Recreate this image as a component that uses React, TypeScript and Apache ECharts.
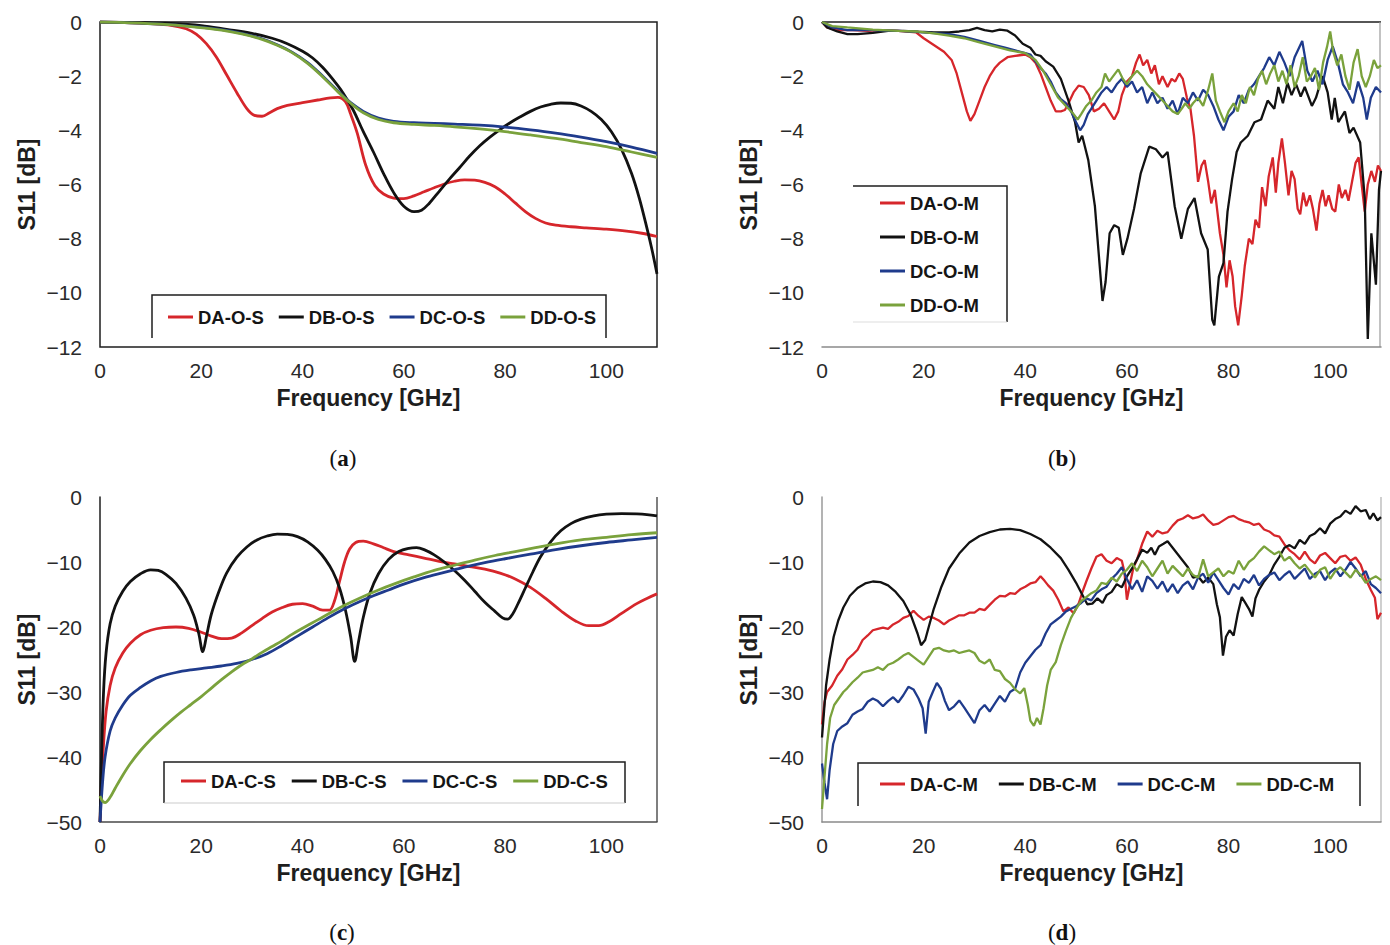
import React, { useEffect, useRef } from "react";
import * as echarts from "echarts";

type Pt = [number, number];

// Axis ranges
const FREQ_MIN = 0;
const FREQ_MAX = 110;
const FREQ_STEP = 20;
const OPEN_MIN = -12;
const OPEN_STEP = 2;
const CLOSED_MIN = -50;
const CLOSED_STEP = 10;

// Series names per panel
const NAMES_A = ["DA-O-S", "DB-O-S", "DC-O-S", "DD-O-S"];
const NAMES_B = ["DA-O-M", "DB-O-M", "DC-O-M", "DD-O-M"];
const NAMES_C = ["DA-C-S", "DB-C-S", "DC-C-S", "DD-C-S"];
const NAMES_D = ["DA-C-M", "DB-C-M", "DC-C-M", "DD-C-M"];
const CAPTIONS = ["a", "b", "c", "d"];

// (a) open, simulated  [GHz, dB]
const daOS: Pt[] = [[0,0],[5,-0.02],[10,-0.06],[14,-0.12],[17,-0.25],[19,-0.45],[21,-0.8],[23,-1.3],[25,-1.95],[27,-2.6],[29,-3.2],[30.5,-3.45],[32,-3.48],[33.5,-3.35],[35,-3.2],[37,-3.08],[40,-2.98],[43,-2.88],[45.5,-2.8],[47,-2.78],[48.5,-2.95],[49.5,-3.4],[50.8,-4.1],[52.5,-5.3],[54.3,-6.05],[56,-6.35],[58,-6.5],[60,-6.52],[62,-6.42],[64,-6.27],[66,-6.12],[68,-5.98],[70,-5.88],[72,-5.83],[74,-5.84],[76,-5.92],[78,-6.08],[80,-6.35],[82,-6.68],[84,-7.0],[86,-7.25],[88,-7.42],[90,-7.5],[93,-7.56],[96,-7.6],[100,-7.65],[104,-7.72],[107,-7.8],[110,-7.92]];
const dbOS: Pt[] = [[0,0],[8,-0.02],[14,-0.05],[20,-0.13],[25,-0.27],[30,-0.42],[34,-0.6],[37,-0.8],[40,-1.08],[42,-1.33],[44,-1.68],[46,-2.12],[48,-2.62],[50,-3.25],[52,-4.05],[54,-4.8],[56,-5.6],[58,-6.3],[60,-6.8],[62,-7.0],[63.5,-6.95],[65,-6.7],[67,-6.25],[69,-5.8],[71,-5.38],[73,-4.95],[75,-4.57],[77,-4.25],[79,-3.97],[81,-3.72],[83,-3.5],[85,-3.3],[87,-3.14],[89,-3.04],[91,-2.99],[93,-3.0],[95,-3.1],[97,-3.3],[99,-3.6],[101,-4.05],[103,-4.7],[105,-5.6],[106.5,-6.5],[108,-7.6],[109,-8.4],[110,-9.3]];
const dcOS: Pt[] = [[0,0],[6,-0.03],[12,-0.08],[18,-0.16],[24,-0.28],[28,-0.42],[32,-0.62],[35,-0.84],[38,-1.12],[41,-1.5],[44,-2.0],[47,-2.55],[49.5,-2.98],[52,-3.3],[55,-3.55],[58,-3.67],[62,-3.72],[66,-3.74],[70,-3.77],[75,-3.81],[80,-3.88],[85,-3.98],[90,-4.1],[95,-4.25],[100,-4.42],[105,-4.62],[110,-4.85]];
const ddOS: Pt[] = [[0,0],[6,-0.03],[12,-0.08],[18,-0.17],[24,-0.3],[28,-0.44],[32,-0.64],[35,-0.86],[38,-1.14],[41,-1.53],[44,-2.03],[47,-2.58],[49.5,-3.0],[52,-3.35],[55,-3.6],[58,-3.72],[62,-3.78],[66,-3.82],[70,-3.87],[75,-3.95],[80,-4.05],[85,-4.17],[90,-4.3],[95,-4.45],[100,-4.6],[105,-4.8],[110,-5.0]];

// (b) open, measured
const daOM: Pt[] = [[0,0],[1,-0.2],[3,-0.3],[6,-0.3],[9,-0.33],[12,-0.3],[15,-0.33],[18.5,-0.38],[20,-0.6],[22,-0.85],[24,-1.1],[25.5,-1.4],[26.5,-1.9],[27.5,-2.6],[28.5,-3.3],[29.2,-3.65],[30,-3.4],[31,-2.9],[32,-2.4],[33,-2.0],[34,-1.7],[35,-1.5],[36.5,-1.3],[38,-1.25],[40,-1.2],[41,-1.3],[42,-1.5],[43,-1.9],[44,-2.4],[45,-2.9],[46,-3.3],[47,-3.3],[47.8,-3.25],[48.5,-3.0],[49.5,-2.6],[50.5,-2.35],[51.5,-2.4],[52.5,-2.7],[53.5,-3.3],[54.5,-3.2],[55.5,-3.0],[56.5,-3.3],[57.5,-3.6],[58.3,-3.3],[59,-2.7],[60,-2.2],[61,-2.0],[61.8,-1.5],[62.5,-1.2],[63.2,-1.6],[64,-1.4],[64.8,-1.9],[65.5,-1.6],[66.3,-2.3],[67,-2.0],[68,-2.4],[68.8,-2.1],[69.5,-2.2],[70.3,-1.9],[71,-2.1],[71.8,-2.8],[72.5,-3.2],[73.2,-4.2],[74,-5.9],[74.7,-5.3],[75.3,-5.1],[76,-5.9],[76.6,-6.7],[77.3,-6.2],[78.3,-7.8],[79,-8.6],[79.6,-9.8],[80.2,-8.8],[80.8,-9.4],[81.3,-10.5],[81.9,-11.2],[82.6,-10.1],[83.2,-9.0],[84,-8.0],[84.7,-8.2],[85.3,-7.3],[86,-7.6],[86.6,-6.1],[87.3,-6.8],[87.9,-5.7],[88.7,-5.0],[89.3,-6.3],[89.8,-5.2],[90.5,-4.3],[91.1,-5.2],[91.8,-6.4],[92.4,-5.5],[93,-5.8],[93.6,-6.9],[94.1,-7.1],[94.7,-6.3],[95.3,-6.8],[96,-6.4],[96.6,-6.9],[97.3,-7.7],[97.9,-6.7],[98.5,-6.2],[99.1,-6.8],[99.7,-6.4],[100.4,-6.9],[101,-7.0],[101.7,-6.0],[102.3,-6.5],[103,-6.2],[103.6,-6.6],[104.3,-5.9],[105,-5.2],[105.6,-5.0],[106.2,-6.0],[106.8,-7.0],[107.4,-6.0],[108.1,-5.5],[108.8,-5.9],[109.4,-5.3],[110,-5.5]];
const dbOM: Pt[] = [[0,0],[1,-0.2],[3,-0.35],[5,-0.45],[7,-0.45],[10,-0.4],[13,-0.33],[16,-0.33],[19,-0.36],[22,-0.38],[25,-0.38],[27,-0.35],[29,-0.3],[30.5,-0.22],[32,-0.3],[33.5,-0.35],[35,-0.28],[36.5,-0.32],[38,-0.5],[39.5,-0.8],[41,-0.95],[42,-1.2],[43,-1.25],[44,-1.45],[45.5,-1.65],[47,-2.1],[48.5,-2.9],[49.8,-3.7],[50.5,-4.45],[51.2,-4.2],[52.4,-5.1],[53.7,-6.8],[54.6,-8.9],[55.2,-10.3],[55.8,-9.6],[56.6,-7.8],[57.5,-7.5],[58.4,-7.6],[59.2,-8.6],[60.1,-8.0],[61.4,-6.9],[62.7,-5.6],[64.4,-4.6],[65.7,-4.7],[67,-5.0],[68,-4.8],[69.4,-6.8],[70.7,-8.0],[72,-6.9],[73.3,-6.5],[74.6,-7.8],[75.9,-8.4],[76.8,-11.0],[77.2,-11.2],[78.1,-9.4],[79,-8.9],[79.8,-7.0],[80.7,-5.8],[81.6,-4.8],[82.4,-4.45],[83.8,-4.2],[85.1,-3.7],[86.4,-3.6],[87.7,-2.9],[89,-3.2],[89.8,-2.4],[90.7,-3.0],[91.6,-2.25],[92.4,-2.7],[93.3,-2.3],[94.2,-2.75],[95,-2.4],[96.4,-3.1],[97.2,-2.8],[98.5,-2.0],[99.5,-2.6],[100.3,-3.6],[100.9,-2.8],[101.6,-3.7],[102.9,-3.3],[103.8,-4.1],[104.6,-3.9],[105.9,-4.45],[106.8,-6.5],[107.4,-11.7],[108.1,-7.8],[109,-9.7],[109.6,-6.2],[110,-5.5]];
const dcOM: Pt[] = [[0,0],[2,-0.2],[5,-0.3],[10,-0.3],[15,-0.33],[20,-0.38],[25,-0.45],[28,-0.55],[31,-0.7],[34,-0.85],[36,-0.95],[38,-1.05],[40,-1.15],[41,-1.2],[42,-1.45],[43,-1.7],[44,-1.9],[45,-2.2],[46,-2.6],[47,-2.85],[48,-3.0],[49,-3.3],[50,-3.7],[50.8,-4.0],[51.5,-3.8],[52.3,-3.4],[53,-3.2],[54,-2.9],[55,-2.6],[56,-2.4],[57,-2.6],[58,-2.3],[59,-2.1],[60,-2.4],[61,-2.2],[62,-2.6],[63,-2.4],[64,-3.0],[65,-2.6],[66,-3.0],[67,-2.8],[68,-3.2],[69,-2.9],[70,-3.4],[71,-2.8],[72,-3.0],[73,-2.6],[74,-2.9],[75,-2.5],[76,-2.7],[77,-3.1],[78,-3.6],[79,-4.0],[80,-3.5],[81,-3.3],[82,-2.7],[83,-3.0],[84,-2.5],[85,-2.3],[86,-2.0],[87,-1.7],[88,-1.3],[89,-1.6],[90,-1.1],[91,-1.5],[92,-2.0],[93,-1.3],[94.5,-0.7],[95.5,-1.8],[96.5,-2.2],[97.5,-1.8],[98.5,-2.3],[99.5,-1.4],[100.5,-0.9],[101.5,-1.5],[102.5,-2.3],[103.5,-2.6],[104.5,-3.0],[105.5,-2.2],[106.5,-2.8],[107.2,-3.6],[108,-2.8],[109,-2.4],[110,-2.6]];
const ddOM: Pt[] = [[0,0],[2,-0.15],[5,-0.2],[10,-0.28],[15,-0.33],[18.5,-0.35],[22,-0.42],[25,-0.5],[28,-0.6],[31,-0.75],[34,-0.9],[37,-1.05],[40,-1.15],[42,-1.4],[43.5,-1.8],[45,-2.3],[46.5,-2.8],[48,-3.1],[49.5,-3.4],[50.3,-3.6],[51,-3.4],[52,-3.1],[53,-2.9],[54,-2.6],[55,-2.4],[55.7,-1.9],[56.5,-2.2],[57.3,-2.0],[58.3,-1.75],[59.2,-2.1],[60,-2.3],[61,-2.0],[62,-1.8],[63,-2.0],[64,-2.3],[65,-2.5],[66,-2.7],[67,-2.9],[68,-3.1],[69,-3.3],[70,-3.4],[70.8,-3.2],[71.5,-3.0],[72.3,-3.2],[73,-3.0],[74,-2.8],[75,-3.1],[76,-2.5],[76.8,-1.9],[77.5,-2.9],[78.3,-3.3],[79.2,-3.7],[80,-3.3],[81,-3.0],[81.8,-3.3],[82.6,-2.7],[83.4,-3.0],[84.2,-2.4],[85,-2.7],[85.8,-2.1],[86.6,-1.8],[87.4,-2.3],[88.2,-1.9],[89,-1.6],[89.8,-2.2],[90.6,-1.8],[91.4,-2.3],[92.2,-1.6],[93,-2.4],[93.8,-2.0],[94.6,-1.3],[95.4,-2.2],[96.2,-2.0],[97,-1.7],[97.8,-2.5],[98.6,-1.5],[99.4,-0.9],[100,-0.35],[100.6,-1.1],[101.4,-1.6],[102.2,-1.2],[103,-2.0],[103.8,-2.5],[104.6,-1.5],[105.4,-1.0],[106.2,-2.0],[107,-2.4],[107.8,-2.0],[108.6,-1.4],[109.3,-1.7],[110,-1.6]];

// (c) closed, simulated
const daCS: Pt[] = [[0,-50],[0.3,-44],[0.7,-38],[1.2,-33],[2,-29],[3,-26.3],[4.5,-24],[6,-22.5],[8,-21.2],[10,-20.5],[12.5,-20.1],[15,-20],[17.5,-20.2],[20,-20.8],[22,-21.4],[24,-21.8],[26,-21.7],[28,-20.9],[30,-19.8],[32,-18.7],[34,-17.7],[36,-17],[38,-16.5],[40,-16.4],[42,-16.8],[44,-17.4],[45.3,-17.4],[46.3,-16],[47.3,-13],[48.3,-10],[49.3,-8],[50.5,-7],[52,-6.8],[54,-7.2],[56,-7.8],[58,-8.4],[61,-8.9],[64,-9.4],[67,-9.9],[70,-10.3],[73,-10.7],[76,-11.1],[79,-11.7],[82,-12.6],[85,-13.9],[88,-15.6],[91,-17.5],[94,-19.1],[96.5,-19.8],[98.5,-19.8],[100.5,-19.2],[103,-17.9],[106,-16.4],[108,-15.6],[110,-14.9]];
const dbCS: Pt[] = [[0,-50],[0.3,-40],[0.7,-30],[1.2,-24],[2,-19.5],[3,-16.8],[4.5,-14.5],[6,-13],[8,-11.8],[10,-11.2],[11.5,-11.3],[13,-11.9],[15,-13.3],[17,-15.6],[18.5,-18.2],[19.5,-21],[20.3,-23.8],[21,-21.5],[22,-18],[23.5,-14.5],[25,-11.7],[27,-9.3],[29,-7.7],[31,-6.6],[33,-6],[35,-5.7],[37,-5.75],[39,-6.1],[41,-6.9],[43,-8.2],[44.5,-9.6],[46,-11.5],[47.3,-14],[48.5,-17.5],[49.5,-21.5],[50.3,-25.3],[51,-22.5],[52,-18.5],[53.3,-14.8],[55,-11.8],[57,-9.6],[59,-8.4],[61,-7.9],[62.5,-7.8],[64,-8.1],[66,-8.9],[68,-10],[70,-11.3],[72,-12.8],[74,-14.5],[76,-16.2],[78,-17.6],[79.5,-18.6],[80.5,-18.8],[81.5,-18],[82.5,-16.5],[84,-14],[85.5,-11.5],[87,-9.2],[89,-6.9],[91,-5.2],[93,-4.1],[95,-3.4],[97.5,-2.9],[100,-2.65],[103,-2.55],[106,-2.6],[108,-2.7],[110,-2.9]];
const dcCS: Pt[] = [[0,-50],[0.5,-44],[1,-40],[2,-36],[3,-34],[4.5,-32],[6,-30.5],[8,-29.3],[10,-28.3],[12,-27.6],[15,-27],[18,-26.6],[21,-26.3],[24,-26],[27,-25.6],[30,-25],[33,-24.1],[36,-22.8],[39,-21.4],[42,-20],[45,-18.6],[48,-17.3],[51,-16.2],[54,-15.2],[57,-14.3],[60,-13.4],[64,-12.4],[68,-11.6],[72,-10.8],[76,-10.1],[80,-9.5],[85,-8.8],[90,-8.1],[95,-7.5],[100,-7],[105,-6.6],[110,-6.2]];
const ddCS: Pt[] = [[0,-46],[0.5,-46.8],[1,-47],[2,-46.2],[3,-44.8],[4.5,-42.8],[6,-41],[8,-39],[10,-37.3],[12,-35.8],[14,-34.4],[16,-33.1],[18,-31.9],[20,-30.7],[22,-29.4],[24,-28.1],[26,-26.9],[28,-25.8],[30,-24.9],[32,-23.9],[34,-23.0],[36,-22.1],[38,-21.1],[40,-20.2],[43,-18.9],[46,-17.6],[49,-16.4],[52,-15.3],[55,-14.3],[58,-13.4],[62,-12.3],[66,-11.3],[70,-10.5],[74,-9.7],[78,-9],[82,-8.4],[86,-7.8],[90,-7.2],[95,-6.6],[100,-6.2],[105,-5.8],[110,-5.5]];

// (d) closed, measured
const daCM: Pt[] = [[0,-35],[0.5,-31.5],[1,-30],[2,-29],[3,-27.5],[4,-26.5],[5,-25],[6,-24.3],[7,-23.5],[8,-22],[9,-21.3],[10,-20.5],[11,-20.3],[12,-20.1],[13,-20.3],[14,-19.6],[15,-19.2],[16,-18.6],[17,-18.3],[18,-17.5],[19,-18.3],[20,-18.9],[21,-18.4],[22,-18.6],[23,-19],[24,-19.6],[25,-19],[26,-18.6],[27,-18.2],[28,-18.2],[29,-17.8],[30,-17.8],[31,-17.2],[32,-17.4],[33,-16.6],[34,-15.8],[35,-15.2],[36,-15.3],[37,-14.8],[38,-14.9],[39,-14.2],[40,-13.8],[41,-13.3],[42,-13.1],[43,-12.2],[43.8,-12.9],[44.5,-13.6],[45.5,-14.4],[46.5,-15.8],[47.5,-17.6],[48.5,-17],[49.5,-17.9],[50.5,-16.4],[51.3,-14.5],[52,-13],[53,-11],[54,-9.2],[55,-8.8],[56,-9.8],[57,-10.2],[58,-9.4],[59,-9.8],[59.5,-11.5],[60,-15.8],[60.7,-13],[61.3,-10.8],[62,-9.6],[63,-7.2],[64,-5.3],[65,-6.1],[66,-5.2],[67,-5.6],[68,-5.4],[69,-4.4],[70,-3.6],[71,-3.3],[72,-2.8],[73,-3.3],[74,-3.1],[75,-2.7],[76,-3.6],[77,-4.3],[78,-4.1],[79,-3.6],[80,-3.1],[81,-2.9],[82,-3.4],[83,-3.7],[84,-3.9],[85,-4.3],[86,-4.1],[87,-5.0],[88,-5.3],[89,-5.9],[90,-6.1],[91,-7.3],[92,-8.2],[93,-8.8],[94,-9.6],[95,-8.4],[96,-9.6],[97,-10.2],[98,-9.0],[99,-8.6],[100,-9.4],[101,-10.2],[102,-9.2],[103,-9.0],[104,-9.8],[105,-9.3],[106,-10.4],[107,-12.6],[108,-14.3],[108.8,-15.5],[109.3,-18.8],[110,-17.8]];
const dbCM: Pt[] = [[0,-37],[0.4,-33],[0.8,-29],[1.5,-25],[2.3,-21.5],[3.2,-19],[4.2,-17],[5.5,-15.2],[7,-14],[8.5,-13.3],[10,-13],[11.5,-13.1],[13,-13.6],[14.5,-14.6],[16,-16],[17.5,-18.2],[18.8,-21],[19.5,-22.8],[20.3,-22],[21,-20],[22,-17.2],[23.5,-13.8],[25,-11],[27,-8.7],[29,-7],[31,-6],[33,-5.4],[35,-5],[37,-4.9],[39,-5.1],[41,-5.7],[43,-6.5],[45,-7.8],[47,-9.4],[48.5,-11.2],[50,-13.2],[51.2,-15],[52.2,-16.5],[53.2,-16.4],[54.2,-15.6],[55.2,-16.3],[56,-15.1],[57,-14.6],[58,-13.4],[59,-13.9],[60,-12.2],[61,-11],[62,-9.6],[63,-8.1],[64,-8.6],[64.8,-7.8],[65.5,-8.9],[66.3,-7.6],[67.2,-7.2],[68,-6.8],[69,-7.8],[70,-8.8],[71,-9.8],[72,-10.8],[73,-12.4],[74,-12.2],[75,-13.2],[76,-12.4],[77,-13.4],[77.7,-16.5],[78.3,-18.5],[78.9,-24.4],[79.5,-21.5],[80.2,-20.5],[81,-21.3],[81.8,-18],[82.6,-15.4],[83.3,-16.3],[84,-17.2],[84.7,-18.4],[85.3,-15.6],[86,-14.3],[87,-13],[88,-12],[89,-10.4],[90,-9.2],[91,-7.8],[92,-7.4],[93,-7.9],[94,-6.6],[95,-7.2],[96,-6.0],[97,-5.6],[98,-4.8],[99,-5.6],[100,-4.1],[101,-3.4],[102,-3.0],[103,-2.1],[104,-2.6],[105,-1.4],[106,-2.2],[107,-2.0],[107.8,-3.4],[108.5,-2.5],[109.3,-3.6],[110,-3.1]];
const dcCM: Pt[] = [[0,-41],[0.5,-44],[1,-46.5],[1.5,-42],[2.2,-38],[3,-36],[4,-35.3],[5,-34.8],[6,-33.5],[7,-33],[8,-32.6],[9,-31.5],[10,-31],[11,-31.4],[12,-32.2],[13,-31.4],[14,-30.8],[15,-31.6],[16,-30.5],[17,-29.2],[18,-29.6],[19,-31],[19.8,-32.5],[20.4,-36.4],[21,-31.5],[21.8,-30],[22.6,-28.6],[23.4,-29.5],[24.2,-31.4],[25,-32.8],[26,-32.2],[27,-31.3],[28,-32.4],[29,-33.6],[30,-34.8],[31,-32.8],[32,-32],[33,-33],[34,-31.8],[35,-30.6],[36,-31.5],[37,-30],[38,-29.5],[39,-27],[40,-25.5],[41,-24.5],[42,-23.5],[43,-22.8],[44,-21],[45,-19.6],[46,-19],[47,-18.4],[48,-17.6],[49,-17.2],[50,-16.8],[51,-16.3],[52,-15.6],[53,-15.9],[54,-14.8],[55,-14.2],[56,-13.8],[57,-12.6],[58,-11.8],[59,-10.8],[60,-12.6],[61,-14.2],[62,-12.8],[63,-14.6],[64,-12.2],[65,-12.9],[66,-14.1],[67,-13],[68,-14.6],[69,-13.4],[70,-14.8],[71,-13.6],[72,-13],[73,-14.2],[74,-12.4],[75,-11.8],[76,-13.2],[77,-11.6],[78,-12.8],[79,-14],[80,-15],[81,-13.4],[82,-14.2],[83,-12.6],[84,-13.2],[85,-12],[86,-13.6],[87,-12.6],[88,-12],[89,-11.6],[90,-12.8],[91,-12],[92,-11.4],[93,-12.6],[94,-11.8],[95,-11],[96,-12.6],[97,-11.8],[98,-11.4],[99,-12.8],[100,-11.6],[101,-11],[102,-12.2],[103,-11.2],[104,-10],[105,-11],[106,-12.2],[107,-11.4],[108,-13.4],[109,-14],[110,-14.8]];
const ddCM: Pt[] = [[0,-48],[0.5,-43],[1,-38],[1.6,-34],[2.4,-32],[3.3,-31],[4.2,-30],[5,-29.4],[6,-28.5],[7,-27.8],[8,-27],[9,-26.8],[10,-26.6],[11,-26.2],[12,-26.6],[13,-25.8],[14,-25.5],[15,-25],[16,-24.4],[17,-24],[18,-24.6],[19,-25.2],[20,-25.8],[21,-24.6],[22,-23.4],[23,-23.2],[24,-23.6],[25,-23.8],[26,-23.6],[27,-24],[28,-23.8],[29,-23.6],[30,-24],[31,-25.2],[32,-25.6],[33,-25],[34,-26.6],[35,-26.8],[36,-28],[37,-28.6],[38,-29.6],[39,-30.2],[39.8,-29.4],[40.5,-32],[41,-34.4],[41.7,-35.2],[42.3,-34],[43,-35],[43.6,-32.5],[44.3,-29],[45,-26.6],[46,-25.4],[47,-22.8],[48,-20.6],[49,-18.6],[50,-17.2],[51,-16],[52,-15.4],[53,-14.8],[54,-14.4],[55,-13.2],[56,-13.4],[57,-12.4],[58,-13],[59,-11.8],[60,-11.2],[61,-10.2],[62,-11.4],[63,-9.8],[64,-10.8],[65,-12.2],[66,-11],[67,-9.8],[68,-11.8],[69,-10.6],[70,-11.4],[71,-12.2],[72,-11],[73,-12],[74,-12.4],[75,-9.6],[76,-12.2],[77,-11.6],[78,-11],[79,-12.2],[80,-11.4],[81,-11.8],[82,-9.8],[83,-11.2],[84,-10],[85,-9.4],[86,-8.4],[87,-7.6],[88,-8.2],[89,-8.8],[90,-8.4],[91,-9.8],[92,-9.2],[93,-10.2],[94,-11],[95,-10.4],[96,-11.4],[97,-12.4],[98,-11.2],[99,-10.8],[100,-12.6],[101,-11.4],[102,-10.8],[103,-11.6],[104,-12.4],[105,-11.2],[106,-12],[107,-13.2],[108,-12.6],[109,-12.2],[110,-12.8]];

const COLORS = ["#d6262b", "#121212", "#1f3b8c", "#7aa23c"];
const SANS = '"Liberation Sans", Arial, sans-serif';
const SERIF = '"Liberation Serif", "DejaVu Serif", serif';

const PANELS = [
  { names: NAMES_A, data: [daOS, dbOS, dcOS, ddOS], yMin: OPEN_MIN, yStep: OPEN_STEP, smooth: 0.35,
    grid: { left: 100, top: 22, width: 557, height: 325 } },
  { names: NAMES_B, data: [daOM, dbOM, dcOM, ddOM], yMin: OPEN_MIN, yStep: OPEN_STEP, smooth: false,
    grid: { left: 822, top: 22, width: 559, height: 325 } },
  { names: NAMES_C, data: [daCS, dbCS, dcCS, ddCS], yMin: CLOSED_MIN, yStep: CLOSED_STEP, smooth: 0.35,
    grid: { left: 100, top: 497, width: 557, height: 325 } },
  { names: NAMES_D, data: [daCM, dbCM, dcCM, ddCM], yMin: CLOSED_MIN, yStep: CLOSED_STEP, smooth: false,
    grid: { left: 822, top: 497, width: 559, height: 325 } },
];

// Frame line colours per panel: [x axis line, y axis line]
const AXIS_LINES: [string | null, string | null][] = [
  [null, null],
  ["#8a8a8a", null],
  ["#4a4a4a", "#1e1e1e"],
  ["#8a8a8a", "#9a9a9a"],
];

function seg(x1: number, y1: number, x2: number, y2: number, stroke: string, lineWidth = 1.5) {
  return { type: "line", silent: true, shape: { x1, y1, x2, y2 }, style: { stroke, lineWidth } };
}
function poly(points: number[][], stroke: string, lineWidth = 1.5) {
  return { type: "polyline", silent: true, shape: { points }, style: { stroke, lineWidth, fill: "none" } };
}

function buildOption() {
  const grids = PANELS.map((p, i) => ({
    ...p.grid,
    containLabel: false,
    show: i === 0,
    borderColor: "#1e1e1e",
    borderWidth: 1.5,
  }));

  const xAxes = PANELS.map((_p, i) => ({
    type: "value",
    gridIndex: i,
    min: FREQ_MIN,
    max: FREQ_MAX,
    interval: FREQ_STEP,
    name: "Frequency [GHz]",
    nameLocation: "middle",
    nameGap: 39,
    nameTextStyle: { fontSize: 23, fontWeight: "bold", color: "#1e1e1e", fontFamily: SANS, padding: [0, 20, 0, 0] },
    axisLine: {
      show: !!AXIS_LINES[i][0],
      onZero: false,
      lineStyle: { color: AXIS_LINES[i][0] || "#000", width: 1.5 },
    },
    axisTick: { show: false },
    splitLine: { show: false },
    axisLabel: {
      fontSize: 21,
      color: "#2a2a2a",
      fontFamily: SANS,
      margin: 13,
      showMaxLabel: false,
      formatter: (v: number) => (v % FREQ_STEP === 0 ? String(v) : ""),
    },
  }));

  const yAxes = PANELS.map((p, i) => ({
    type: "value",
    gridIndex: i,
    min: p.yMin,
    max: 0,
    interval: p.yStep,
    name: "S11 [dB]",
    nameLocation: "middle",
    nameGap: 62,
    nameTextStyle: { fontSize: 23, fontWeight: "bold", color: "#1e1e1e", fontFamily: SANS },
    axisLine: {
      show: !!AXIS_LINES[i][1],
      onZero: false,
      lineStyle: { color: AXIS_LINES[i][1] || "#000", width: 1.5 },
    },
    axisTick: { show: false },
    splitLine: { show: false },
    axisLabel: {
      fontSize: 21,
      color: "#2a2a2a",
      fontFamily: SANS,
      margin: 18,
      formatter: (v: number) => (v === 0 ? "0" : "\u2212" + Math.abs(v)),
    },
  }));

  const series: any[] = [];
  PANELS.forEach((p, i) => {
    p.names.forEach((name, k) => {
      series.push({
        type: "line",
        name,
        xAxisIndex: i,
        yAxisIndex: i,
        data: p.data[k],
        showSymbol: false,
        symbol: "none",
        smooth: p.smooth,
        lineStyle: { color: COLORS[k], width: p.smooth ? 2.8 : 2.3 },
        itemStyle: { color: COLORS[k] },
        z: 2 + k,
      });
    });
  });

  const legendText = { fontSize: 18.5, fontWeight: "bold", color: "#151515", fontFamily: SANS, lineHeight: 20 };
  const legendBase = {
    icon: "rect",
    itemWidth: 25,
    itemHeight: 3,
    padding: 0,
    selectedMode: false,
    textStyle: legendText,
  };
  const legends = [
    { ...legendBase, data: NAMES_A, orient: "horizontal", left: 168, top: 307, itemGap: 15 },
    { ...legendBase, data: NAMES_B, orient: "vertical", left: 880, top: 193, itemGap: 14 },
    { ...legendBase, data: NAMES_C, orient: "horizontal", left: 181, top: 771, itemGap: 16 },
    { ...legendBase, data: NAMES_D, orient: "horizontal", left: 880, top: 774, itemGap: 21 },
  ];

  const captionPos = [
    [343, 458],
    [1062, 458],
    [342, 932],
    [1062, 932],
  ];
  const captions = CAPTIONS.map((c, i) => ({
    type: "text",
    silent: true,
    x: captionPos[i][0],
    y: captionPos[i][1],
    style: {
      text: "({b|" + c + "})",
      fontSize: 23,
      fontFamily: SERIF,
      fill: "#111",
      align: "center",
      verticalAlign: "middle",
      rich: { b: { fontSize: 23, fontFamily: SERIF, fontWeight: "bold", fill: "#111" } },
    },
  }));

  const frames = [
    // (b) outer frame: top and right edges
    seg(822, 22, 1381, 22, "#1e1e1e"),
    seg(1380, 22, 1380, 347, "#9a9a9a", 1.2),
    // (c) right edge
    seg(657, 497, 657, 822, "#555", 1.5),
    // (d) right edge
    seg(1381, 497, 1381, 822, "#b0b0b0", 1.2),
    // legend frames
    poly([[152, 338], [152, 295], [606, 295], [606, 338]], "#1e1e1e"),
    poly([[853, 186], [1007, 186], [1007, 322]], "#1e1e1e"),
    seg(853, 322, 1007, 322, "#dddddd", 1.2),
    poly([[164, 803], [164, 762], [625, 762], [625, 803]], "#1e1e1e"),
    seg(164, 803, 625, 803, "#cccccc", 1.2),
    poly([[858, 806], [858, 763], [1360, 763], [1360, 806]], "#1e1e1e"),
  ];

  return {
    animation: false,
    backgroundColor: "#ffffff",
    grid: grids,
    xAxis: xAxes,
    yAxis: yAxes,
    legend: legends,
    series,
    graphic: [...frames, ...captions],
  };
}

export default function App() {
  const ref = useRef<HTMLDivElement>(null);
  useEffect(() => {
    if (!ref.current) return;
    const chart = echarts.init(ref.current, undefined, { renderer: "svg" });
    chart.setOption(buildOption() as any);
    return () => chart.dispose();
  }, []);
  return (
    <div
      ref={ref}
      style={{ position: "absolute", left: 0, top: 0, width: 1390, height: 945, background: "#fff" }}
    />
  );
}
